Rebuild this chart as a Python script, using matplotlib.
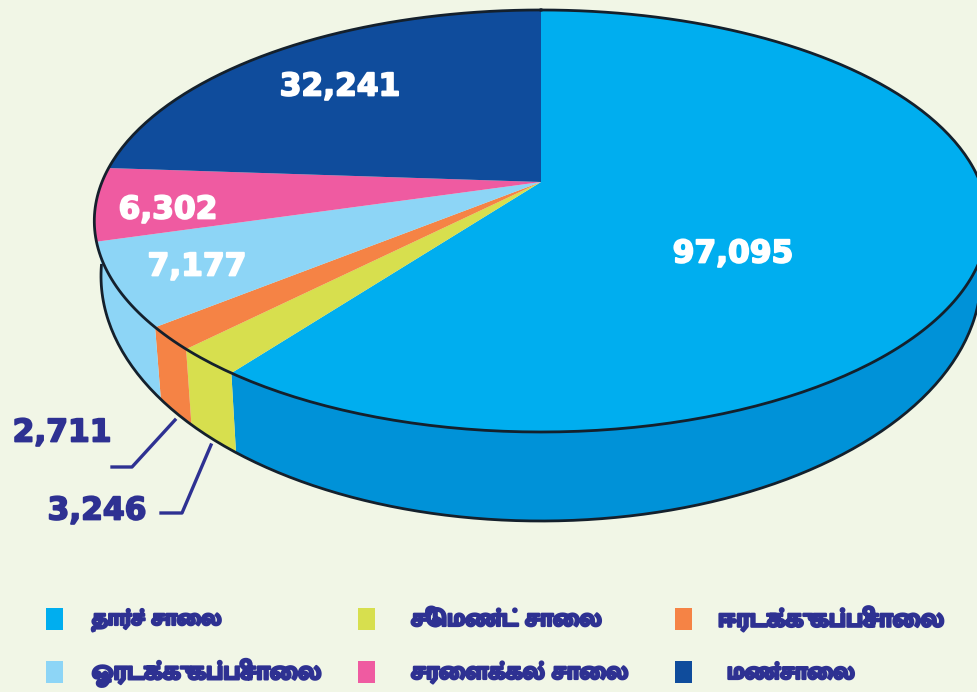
import numpy as np
import matplotlib
matplotlib.use('Agg')
import matplotlib.pyplot as plt
import matplotlib.patheffects as pe
from matplotlib.patches import Polygon, Rectangle

# road lengths per surface type, clockwise from the top of the pie
names = ['தார்ச் சாலை', 'சிமெண்ட் சாலை', 'ஈரடுக்கு கப்பிசாலை',
         'ஓரடுக்கு கப்பிசாலை', 'சரளைக்கல் சாலை', 'மண்சாலை']
values = [97095, 3246, 2711, 7177, 6302, 32241]
value_labels = ['97,095', '3,246', '2,711', '7,177', '6,302', '32,241']
colors = ['#00AEEF', '#D7DF4E', '#F58345', '#8DD5F6', '#EF5BA1', '#0F4C9C']
wall_colors = ['#0092D8', '#D7DF4E', '#F58345', '#8DD5F6']

bg = '#F1F6E6'
rim = '#14202C'
label_blue = '#2E3192'

# view of the pie, in pixels
apex_x, apex_y = 541, 182
rx, ry, k = 439, 203.8, 0.1848
wall_cx, wall_cy, wall_rx, wall_ry = 541, 276, 440, 245
# the 3D view in the source squeezes the front slices, this undoes it
warp_in = [0, 235, 249.4, 282, 360]
warp_out = [0, 217, 231, 274, 360]


def top_point(deg):
    # perspective circle, so the apex sits above the ellipse centre
    t = np.radians(deg)
    w = 1 + k*np.cos(t)
    return apex_x + rx*np.sin(t)/w, apex_y - ry*np.cos(t)/w


def wall_point(psi):
    t = np.radians(psi)
    return wall_cx + wall_rx*np.cos(t), wall_cy + wall_ry*np.sin(t)


def psi_below(deg):
    x, _ = top_point(deg)
    return np.degrees(np.arccos(np.clip((x - apex_x)*0.985/wall_rx, -1, 1)))


def visual_order(s):
    # matplotlib has no shaping, so pre-base vowels go before their consonant
    out = list(s)
    for i in range(1, len(out)):
        if out[i] in 'ெேை':
            out[i-1], out[i] = out[i], out[i-1]
    return ''.join(out)


edges = np.interp(np.cumsum([0] + values)/np.sum(values)*360, warp_in, warp_out)

fig = plt.figure(figsize=(9.77, 6.92), dpi=100, facecolor=bg)
ax = fig.add_axes([0, 0, 1, 1])
ax.set_xlim(0, 977)
ax.set_ylim(692, 0)
ax.axis('off')

# side wall, only the four front slices show
wall_start = 100.6
for i in range(4):
    a0 = max(edges[i], wall_start)
    a1 = edges[i+1]
    psi0 = -2.5 if i == 0 else psi_below(a0)
    psi1 = 182.5 if i == 3 else psi_below(a1)
    up = np.linspace(a0, a1, 60)
    down = np.linspace(psi1, psi0, 60)
    pts = [top_point(a) for a in up] + [wall_point(p) for p in down]
    ax.add_patch(Polygon(pts, closed=True, fc=wall_colors[i], ec='none', zorder=1))

# top face
for i in range(len(values)):
    angs = np.linspace(edges[i], edges[i+1], 120)
    pts = [(apex_x, apex_y)] + [top_point(a) for a in angs]
    ax.add_patch(Polygon(pts, closed=True, fc=colors[i], ec='none', zorder=2))

ring = np.array([top_point(a) for a in np.linspace(0, 360, 361)])
ax.plot(ring[:, 0], ring[:, 1], color=rim, lw=2.0, zorder=3)
low = np.array([wall_point(p) for p in np.linspace(-2.5, 182.5, 200)])
ax.plot(low[:, 0], low[:, 1], color=rim, lw=2.0, zorder=3)

# value labels
num = dict(family='DejaVu Sans', weight='bold', fontsize=22.5, ha='center', va='center')
spots = [(733, 254), (97, 511), (62, 433), (197, 267), (168, 210), (340, 87)]
label_colors = ['white', label_blue, label_blue, 'white', 'white', 'white']
for i, lab in enumerate(value_labels):
    t = ax.text(spots[i][0], spots[i][1], lab, color=label_colors[i], zorder=5, **num)
    t.set_path_effects([pe.withStroke(linewidth=1.3, foreground=label_colors[i])])

ax.plot([112, 132, 175], [467, 467, 420], color=label_blue, lw=2.4, zorder=4)
ax.plot([161, 182, 211], [513, 513, 445], color=label_blue, lw=2.4, zorder=4)

# legend
box_x = [46, 358, 675, 46, 358, 675]
box_y = [608, 608, 608, 661, 661, 661]
text_x = [92, 411, 718, 92, 411, 727]
text_size = [16, 17.5, 18.5, 18.5, 17.5, 17]
tamil = ['Mukta Malar', 'Noto Sans Tamil', 'DejaVu Sans']
for i, name in enumerate(names):
    ax.add_patch(Rectangle((box_x[i], box_y[i]), 17, 22, fc=colors[i], ec='none'))
    t = ax.text(text_x[i], box_y[i] + 12, visual_order(name), color=label_blue,
                family=tamil, weight='bold', fontsize=text_size[i], ha='left', va='center')
    t.set_path_effects([pe.withStroke(linewidth=1.6, foreground=label_blue)])

fig.savefig('out.png', dpi=100, facecolor=bg)
